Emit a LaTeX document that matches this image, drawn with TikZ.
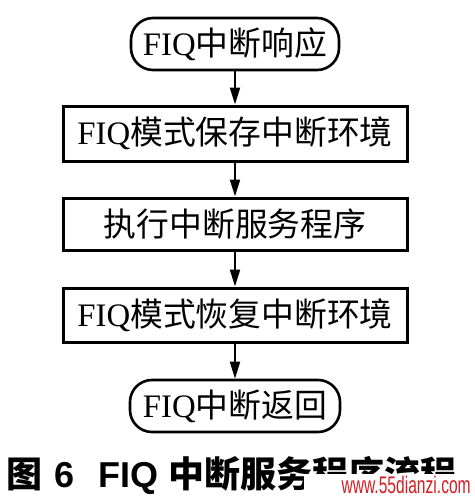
\documentclass[tikz,border=0pt]{standalone}
\usepackage{fontspec}
\setmainfont{Liberation Serif}
\setsansfont{Liberation Sans}
\newfontfamily\cjk{Noto Sans CJK SC}
\usetikzlibrary{arrows.meta}
\definecolor{markred}{RGB}{215,30,35}

\begin{document}
\begin{tikzpicture}[x=0.5pt,y=-0.5pt,
	termbox/.style={draw,line width=1.3pt,rounded corners=11pt,minimum height=26pt,inner sep=0pt,font=\fontsize{16.4}{18}\selectfont},
	procbox/.style={draw,line width=1.5pt,minimum width=172pt,minimum height=27pt,inner sep=0pt,font=\fontsize{16.4}{18}\selectfont},
	flow/.style={line width=1pt,-{Triangle[length=8.5pt,width=5pt]}}]
	\useasboundingbox (0,0) rectangle (475,498);

	%flow chart
	\node[termbox,minimum width=104pt] (resp) at (235,44) {FIQ{\cjk 中断响应}}; %start
	\node[procbox,minimum height=27.5pt] (save) at (235,133.5) {FIQ{\cjk 模式保存中断环境}}; %save
	\node[procbox,minimum height=26pt] (exec) at (235,224) {{\cjk 执行中断服务程序}}; %service
	\node[procbox] (rest) at (235,315) {FIQ{\cjk 模式恢复中断环境}}; %restore
	\node[termbox,minimum width=105pt] (ret) at (235,406) {FIQ{\cjk 中断返回}}; %return

	%arrows
	\draw[flow] (resp) -- (save);
	\draw[flow] (save) -- (exec);
	\draw[flow] (exec) -- (rest);
	\draw[flow] (rest) -- (ret);

	%caption
	\node[anchor=base west,inner sep=0pt,font=\fontsize{18}{19}\selectfont\bfseries] (cap) at (6,487)
		{{\cjk 图}\hspace{6pt}{\sffamily 6}\hspace{12pt}{\sffamily FIQ}\hspace{5pt}{\cjk 中断服务程序流程}};

	%watermark
	\fill[white] (304,474) rectangle (475,498);
	\node[anchor=base east,inner sep=0pt,text=markred,font=\sffamily\fontsize{12}{12}\selectfont,xscale=0.65,transform shape] (mark) at (471,493) {www.55dianzi.com};
\end{tikzpicture}
\end{document}
